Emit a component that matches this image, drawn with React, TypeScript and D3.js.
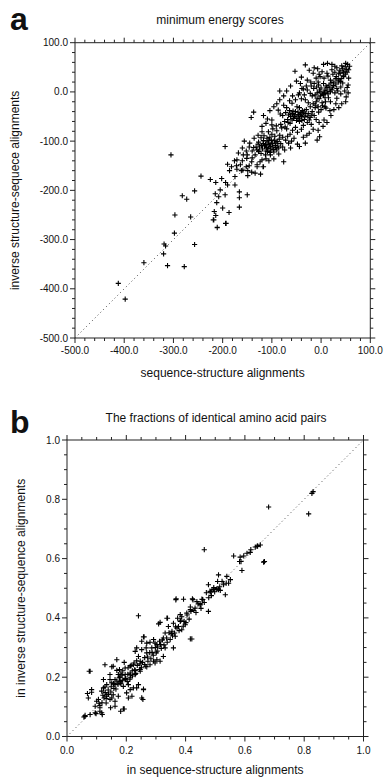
import React from "react";
import * as d3 from "d3";

// ---------- Panel a data: minimum energy scores ----------
const aTitle = "minimum energy scores";
const aXLabel = "sequence-structure alignments";
const aYLabel = "inverse structure-sequece alignments";
const aDomain = [-500, 100];
const aMajorTicks = [-500, -400, -300, -200, -100, 0, 100];
const aPoints: [number, number][] = [
  [-412,-389],[-398,-421],[-360,-347],[-312,-353],[-278,-355],[-320,-329],[-319,-309],[-316,-313],[-298,-287],[-257,-310],[-218,-260],[-211,-276],[-193,-267],
  [-297,-250],[-305,-128],[-244,-171],[-225,-178],[-214,-184],[-202,-176],[-194,-184],[-190,-189],[-175,-172],[-175,-189],[-257,-201],[-215,-207],[-205,-199],[-208,-213],[-195,-209],[-166,-203],[-166,-215],[-150,-209],[-282,-211],[-273,-218],[-212,-225],[-200,-236],[-166,-234],[-217,-243],[-214,-251],[-187,-245],[-265,-254],[-219,-260],[-194,-267],[-211,-275],[-171,-157],[-159,-159],[-152,-152],[-149,-160],[-141,-163],[-130,-152],[-123,-167],[-117,-152],[-134,-165],[-149,-170],
  [-137,-41],[-142,-52],[-117,-48],[-109,-55],[-100,-57],[-87,-37],[-83,-45],[-100,-67],[-91,-69],[-82,-66],[-73,-71],[-63,-64],[-195,-111],[-145,-104],[-137,-113],[-127,-102],[-122,-93],[-116,-89],[-120,-81],[-107,-81],[-98,-75],[-90,-79],[-80,-73],[-70,-75],[-63,-86],[-55,-94],[-48,-106],[-44,-111],[-32,-104],[-29,-88],[-8,-98],[-3,-91],[6,-57],[10,-33],[-5,-41],[-12,-32],[-190,-147],[-171,-138],[-164,-148],[-158,-128],[-151,-135],[-141,-142],[-130,-148],[-120,-138],[-113,-128],[-103,-128],[-127,-121],[-134,-128],[-118,-152],[-76,-142],
  [-53,42],[-32,55],[-84,2],[-14,49],[-7,47],[5,56],[13,58],[2,41],[12,38],[22,45],[32,49],[42,53],[49,51],[54,56],[56,45],[46,31],[39,21],[53,9],[32,7],[19,0],[5,-6],[-8,-13],[-22,-3],[-39,7],[-46,-6],[-32,-16],[-22,-30],[-49,-30],[-59,-23],[-70,-32],[-76,-27],[-5,14],[5,17],[19,24],[31,31],[25,13],[12,9],[39,38],[49,41],[56,28],[51,-10],[32,-13],[19,-20],[8,-30],[-42,17],[-28,24],[-10,28],[-2,31],[-15,7],[-12,-6],[-2,0],
  [-110,-100],[-105,-108],[-98,-112],[-95,-98],[-92,-104],[-88,-110],[-85,-96],[-102,-118],[-108,-115],[-115,-110],[-112,-120],[-118,-105],[-125,-112],[-96,-122],[-90,-118],[-82,-105],[-78,-112],[-84,-88],[-78,-92],[-72,-98],[-66,-104],[-68,-90],[-60,-100],[-130,-118],[-122,-125],[-140,-120],[-104,-92],[-100,-86],[-94,-90],[-110,-94],
  [-58,-78],[-52,-72],[-48,-82],[-40,-76],[-36,-68],[-44,-60],[-50,-58],[-56,-54],[-62,-50],[-68,-56],[-74,-60],[-78,-48],[-72,-42],[-64,-38],[-58,-44],[-52,-40],[-46,-46],[-40,-50],[-34,-56],[-28,-62],[-22,-52],[-26,-44],[-30,-36],[-38,-38],[-44,-32],[-18,-40],[-14,-48],[-10,-56],[-4,-62],[-20,-66],
  [-16,-24],[-10,-20],[-4,-14],[2,-22],[8,-12],[14,-4],[22,4],[28,-2],[34,2],[40,10],[44,18],[36,24],[26,20],[16,14],[8,4],[0,8],[-6,20],[-20,12],[-28,4],[-34,-6],[-40,-14],[-52,-16],[-58,-8],[-64,-18],[-26,-22],[-18,-8],[-8,-2],[4,-4],
  [46,40],[52,46],[44,47],[38,44],[28,40],[24,36],[14,32],[6,28],[-4,36],[-16,38],[-24,44],[58,52],[50,58],[28,52],[22,56],[-40,30],[-50,22],[-62,12],[-70,2],[-76,-8],[-84,-16],[-90,-24],[-96,-30],[-104,-38],
  [-112,-64],[-120,-70],[-128,-88],[-136,-94],[-146,-112],[-152,-120],[-160,-114],[-156,-100],[-168,-124],[-176,-140],[-182,-152],[-186,-160],[-172,-150],[-162,-160],[-146,-150],[-140,-134],[-106,-140],[-96,-136],[-86,-126],[-74,-118],[-62,-114],[-36,-92],[-24,-84],[-16,-76],[-6,-78],[4,-70],[12,-62],[20,-48],[26,-36],[30,-24],[40,-4],[48,2],[55,14],[55,-2],[50,-20],[42,-24],[36,-32],[18,-38],[-160,-140],[-150,-128],[-124,-142],[-112,-136],
  [-107,-104],[-103,-111],[-99,-105],[-93,-109],[-89,-101],[-86,-114],[-101,-99],[-97,-116],[-113,-107],[-109,-121],[-119,-116],[-104,-123],[-92,-113],[-117,-99],[-121,-109],[-128,-106],[-132,-112],[-126,-120],[-111,-113],[-106,-98],
  [-55,-50],[-49,-53],[-43,-49],[-47,-41],[-53,-47],[-59,-57],[-41,-43],[-37,-47],[-33,-51],[-31,-44],[-27,-49],[-35,-41],[-57,-39],[-61,-45],[-66,-47],[-67,-62],[-45,-55],[-39,-58],[-24,-57],[-19,-47],
  [-6,-30],[0,-36],[-12,-27],[3,-28],[9,-20],[15,-12],[-1,-8],[6,-2],[12,2],[18,6],[24,10],[30,16],[35,20],[41,27],[45,33],[50,36],[53,40],[36,37],[30,27],[20,18],[10,12],[-3,4],[-9,10],[-14,17],[-21,20],[-30,12],[-36,6],[-44,-2]
];

// ---------- Panel b data: fractions of identical amino acid pairs ----------
const bTitle = "The fractions of identical amino acid pairs";
const bXLabel = "in sequence-structure alignments";
const bYLabel = "in inverse structure-sequence alignments";
const bDomain = [0, 1];
const bMajorTicks = [0, 0.2, 0.4, 0.6, 0.8, 1.0];
const bPoints: [number, number][] = [
  [.680,.774],[.815,.751],[.830,.826],[.826,.82],[.463,.630],[.562,.609],[.584,.605],[.596,.609],[.607,.618],[.620,.630],[.635,.639],[.643,.643],
  [.663,.588],[.587,.590],[.590,.560],[.618,.621],[.511,.545],[.539,.540],[.551,.529],[.545,.517],[.523,.523],[.477,.512],[.494,.496],[.506,.498],[.485,.487],[.534,.478],[.517,.493],[.455,.463],[.438,.455],[.425,.461],[.393,.463],[.367,.461],[.449,.444],[.432,.433],[.416,.428],[.477,.422],[.404,.416],[.387,.404],[.241,.407],
  [.314,.385],[.337,.399],[.359,.382],[.382,.388],[.399,.377],[.387,.360],[.371,.366],[.354,.355],[.331,.349],[.342,.371],[.365,.338],[.325,.332],[.312,.321],[.292,.327],[.303,.310],[.269,.315],[.260,.336],[.286,.299],[.252,.293],[.269,.282],[.235,.299],[.241,.270],[.247,.254],[.224,.242],[.213,.237],[.196,.231],[.177,.226],[.168,.259],[.193,.250],[.151,.235],[.128,.242],[.359,.299],[.325,.270],[.303,.259],[.297,.248],[.280,.242],[.269,.235],[.421,.329],
  [.075,.220],[.069,.145],[.083,.149],[.061,.068],[.095,.080],[.100,.119],[.111,.104],[.117,.080],[.132,.113],[.134,.136],[.145,.125],[.156,.141],[.173,.136],[.162,.119],[.123,.164],[.134,.175],[.123,.192],[.151,.181],[.162,.192],[.145,.209],[.173,.209],[.179,.186],[.190,.169],[.207,.175],[.213,.198],[.230,.209],[.247,.220],[.241,.175],[.224,.164],[.201,.147],[.219,.136],[.235,.164],[.258,.158],[.256,.125],[.193,.093],[.181,.085],[.162,.102],[.111,.085],
  [.309,.380],[.339,.399],[.373,.399],[.382,.411],[.416,.329],[.258,.336],[.252,.321],[.230,.287],[.267,.299],[.280,.318],[.297,.315],[.314,.310],[.331,.299],[.301,.282],[.314,.254],[.292,.254],[.264,.237],[.247,.226],[.230,.223],[.213,.214],[.196,.209],[.179,.201],[.168,.223],[.156,.237],[.078,.220],[.145,.192],[.162,.175],[.179,.181],[.196,.192],[.128,.167],[.117,.153],[.134,.141],[.151,.130],[.083,.158],[.072,.130],[.106,.125],[.095,.102],[.111,.097],[.147,.097],[.190,.093],[.207,.130],[.252,.130],[.258,.160],[.213,.158],[.061,.071],[.078,.074],[.098,.077],[.119,.074],[.057,.066],
  [.641,.641],[.652,.646],[.666,.590],[.582,.590],[.508,.523],[.489,.495],[.511,.495],[.537,.517],[.368,.464],[.423,.464],[.449,.448],[.416,.437],
  [.47,.485],[.482,.49],[.495,.502],[.505,.495],[.478,.468],[.458,.462],[.442,.447],[.428,.425],[.418,.422],[.405,.41],[.395,.388],[.384,.392],[.376,.371],[.366,.37],[.352,.346],[.344,.35],[.336,.332],[.322,.326],[.316,.31],[.306,.302],[.298,.3],[.287,.284],[.279,.283],[.272,.268],[.262,.266],[.255,.25],[.246,.245],[.237,.24],[.228,.225],[.22,.222],[.214,.208],[.205,.21],[.198,.196],[.188,.19],[.182,.178],[.172,.176],[.165,.16],[.158,.162],[.148,.15],[.14,.142],[.132,.128],[.125,.13],[.118,.114],[.108,.112],
  [.203,.186],[.212,.193],[.186,.207],[.176,.198],[.168,.187],[.157,.179],[.149,.168],[.139,.157],[.129,.148],[.121,.139],[.221,.204],[.232,.213],[.244,.226],[.251,.232],[.262,.243],[.273,.254],[.283,.262],[.291,.274],[.235,.255],[.226,.248],[.216,.24],[.206,.232],[.188,.222],[.182,.214],[.304,.288],[.318,.297],[.327,.309],[.338,.318],[.348,.327],[.356,.339],[.363,.349],[.378,.357],[.392,.372],[.401,.384],[.412,.396],[.435,.418],[.452,.432],[.463,.452],[.487,.475],[.498,.488],[.515,.505],[.528,.512]
];

const FONT = "'Liberation Sans', Arial, Helvetica, sans-serif";

function plusPath(x: number, y: number, r: number) {
  return `M${x - r},${y}H${x + r}M${x},${y - r}V${y + r}`;
}

type PanelProps = {
  letter: string;
  letterY: number;
  title: string;
  titleY: number;
  xLabel: string;
  yLabel: string;
  domain: number[];
  majorTicks: number[];
  minorStep: number;
  fmt: (v: number) => string;
  points: [number, number][];
  left: number;
  top: number;
  size: number;
  yLabelX: number;
  xTickY: number;
  xLabelY: number;
  titleX: number;
};

function Panel(p: PanelProps) {
  const x = d3.scaleLinear().domain(p.domain).range([p.left, p.left + p.size]);
  const y = d3.scaleLinear().domain(p.domain).range([p.top + p.size, p.top]);
  const minor = d3.range(p.domain[0], p.domain[1] + p.minorStep / 2, p.minorStep);
  const isMajor = (v: number) => p.majorTicks.some((m) => Math.abs(m - v) < p.minorStep / 10);
  const x0 = p.left, x1 = p.left + p.size, y0 = p.top + p.size, y1 = p.top;
  const tickPaths: string[] = [];
  minor.forEach((v) => {
    const len = isMajor(v) ? 5 : 3;
    const xv = x(v), yv = y(v);
    tickPaths.push(`M${xv},${y0}V${y0 + len}`);
    tickPaths.push(`M${xv},${y1}V${y1 - len}`);
    tickPaths.push(`M${x0},${yv}H${x0 - len}`);
    tickPaths.push(`M${x1},${yv}H${x1 + len}`);
  });
  const line = d3.line<number>().x((v) => x(v)).y((v) => y(v));
  const cy = (y0 + y1) / 2;
  return (
    <g fontFamily={FONT} fill="#111">
      <text x={10} y={p.letterY} fontSize={32} fontWeight="bold">{p.letter}</text>
      <text x={p.titleX} y={p.titleY} fontSize={12} textAnchor="middle">{p.title}</text>
      <rect x={x0} y={y1} width={p.size} height={p.size} fill="none" stroke="#222" strokeWidth={1} />
      <path d={tickPaths.join("")} stroke="#222" strokeWidth={1} fill="none" />
      <path d={line(p.domain) || ""} stroke="#444" strokeWidth={1} strokeDasharray="1,3" fill="none" />
      {p.majorTicks.map((v) => (
        <text key={"yl" + v} x={x0 - 7} y={y(v) + 3.5} fontSize={10} textAnchor="end">{p.fmt(v)}</text>
      ))}
      {p.majorTicks.map((v) => (
        <text key={"xl" + v} x={x(v)} y={p.xTickY} fontSize={10} textAnchor="middle">{p.fmt(v)}</text>
      ))}
      <text x={(x0 + x1) / 2} y={p.xLabelY} fontSize={12} textAnchor="middle">{p.xLabel}</text>
      <text transform={`translate(${p.yLabelX},${cy}) rotate(-90)`} fontSize={12} textAnchor="middle">{p.yLabel}</text>
      <path
        d={p.points.map(([a, b]) => plusPath(x(a), y(b), 2.6)).join("")}
        stroke="#000"
        strokeWidth={1.1}
        fill="none"
      />
    </g>
  );
}

export default function App() {
  return (
    <svg width={385} height={778} style={{ position: "absolute", left: 0, top: 0, background: "#fff" }}>
      <rect width={385} height={778} fill="#fff" />
      <Panel
        letter="a" letterY={30} title={aTitle} titleY={24} titleX={220}
        xLabel={aXLabel} yLabel={aYLabel} domain={aDomain} majorTicks={aMajorTicks}
        minorStep={20} fmt={(v) => v.toFixed(1)} points={aPoints}
        left={75} top={42.7} size={295.3} yLabelX={19} xTickY={354} xLabelY={377}
      />
      <Panel
        letter="b" letterY={433} title={bTitle} titleY={422} titleX={216}
        xLabel={bXLabel} yLabel={bYLabel} domain={bDomain} majorTicks={bMajorTicks}
        minorStep={0.05} fmt={(v) => v.toFixed(1)} points={bPoints}
        left={67} top={440} size={296.5} yLabelX={25} xTickY={754} xLabelY={774}
      />
    </svg>
  );
}
